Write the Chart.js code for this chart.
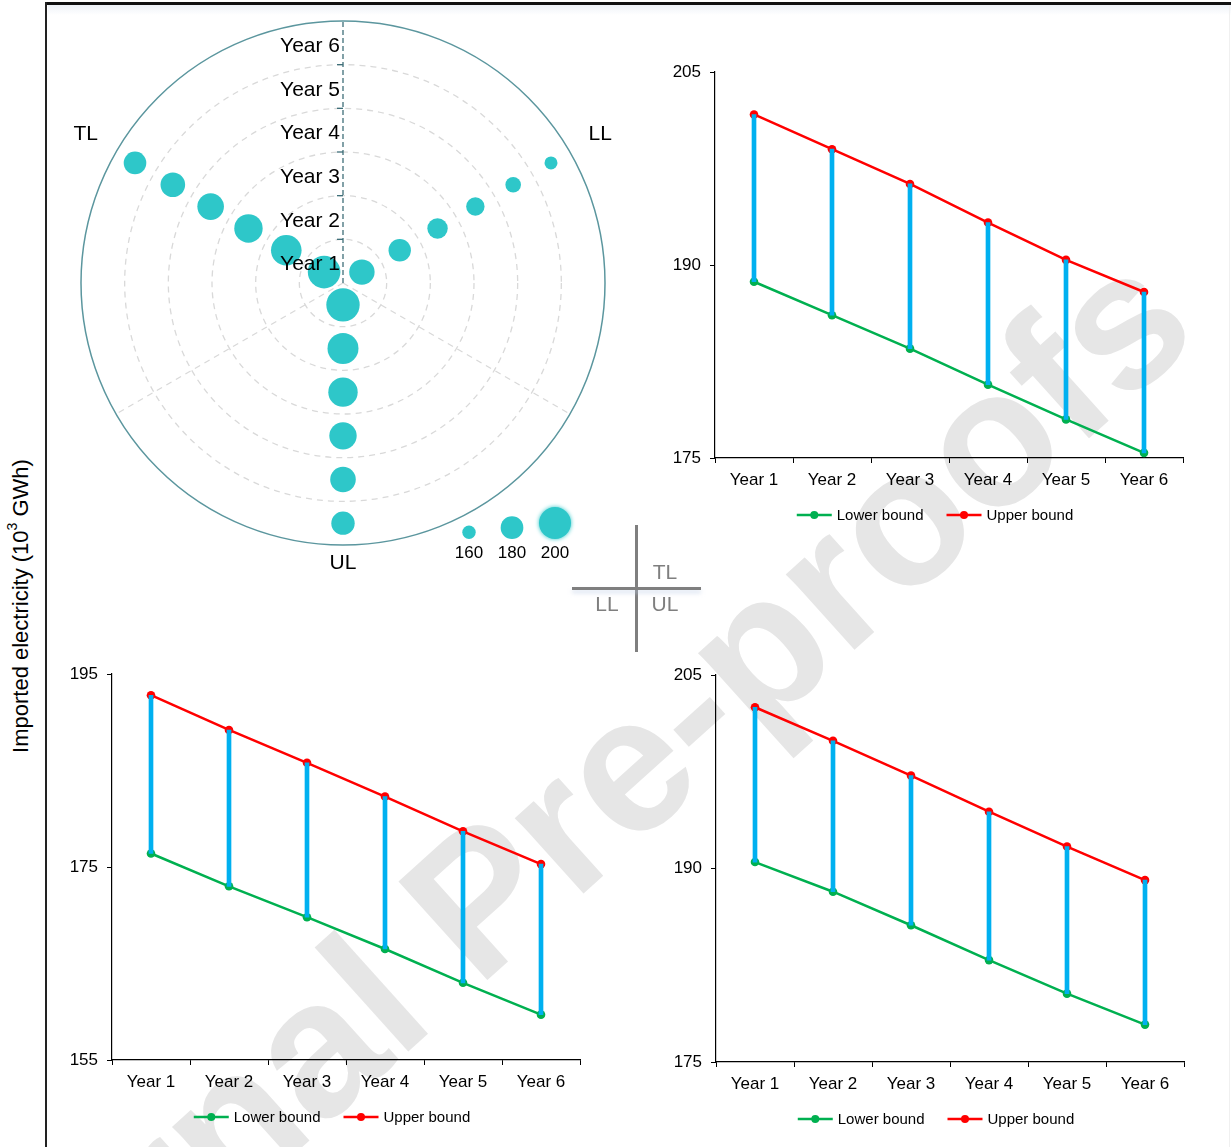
<!DOCTYPE html>
<html>
<head>
<meta charset="utf-8">
<title>Imported electricity bounds</title>
<script src="https://cdn.jsdelivr.net/npm/chart.js@4.4.1/dist/chart.umd.min.js"></script>
<style>
  html, body { margin: 0; padding: 0; background: #fff; }
  body { width: 1231px; height: 1147px; position: relative; overflow: hidden;
         font-family: "Liberation Sans", Arial, sans-serif; }
  canvas { position: absolute; }
  #watermark { position: absolute; left: 517px; top: 864px; white-space: nowrap;
               font-size: 193px; font-weight: bold; line-height: 1; color: #e6e6e6;
               transform: translate(-50%, -50%) rotate(-42deg); z-index: 0; }
  #frameTop { position: absolute; left: 46px; top: 2px; width: 1185px; height: 3px; background: #111; z-index: 5; }
  #frameShade { position: absolute; left: 48px; top: 5px; width: 1183px; height: 10px;
                background: linear-gradient(#eef2f8, rgba(255,255,255,0)); z-index: 1; }
  #frameLeft { position: absolute; left: 45px; top: 2px; width: 2px; height: 1145px; background: #222; z-index: 5; }
  #frameRight { position: absolute; left: 1229px; top: 5px; width: 1px; height: 1142px; background: #f0f0f0; z-index: 1; }
  #ytitle { position: absolute; left: 20px; top: 606px; white-space: nowrap; font-size: 22px; color: #000;
            transform: translate(-50%, -50%) rotate(-90deg); z-index: 3; }
  #ytitle sup { font-size: 14px; position: relative; top: -2px; }
  .keyLine { position: absolute; background: #7f7f7f; z-index: 3; }
  .keyText { position: absolute; font-size: 21px; color: #7f7f7f; transform: translate(-50%, -50%); z-index: 3; }
</style>
</head>
<body>
<div id="watermark">Journal Pre-proofs</div>
<div id="frameShade"></div>
<div id="frameTop"></div>
<div id="frameLeft"></div>
<div id="frameRight"></div>
<div id="ytitle">Imported electricity (10<sup>3</sup> GWh)</div>

<!-- quadrant key for the three line panels -->
<div class="keyLine" style="left:635px; top:525px; width:3px; height:127px;"></div>
<div class="keyLine" style="left:572px; top:587px; width:129px; height:3px; box-shadow:0 3px 4px rgba(190,205,230,0.6);"></div>
<div class="keyText" style="left:665px; top:572px;">TL</div>
<div class="keyText" style="left:607px; top:604px;">LL</div>
<div class="keyText" style="left:665px; top:604px;">UL</div>

<canvas id="polar" width="594" height="570" style="left:46px; top:5px; z-index:2;"></canvas>
<canvas id="chartTL" width="575" height="500" style="left:645px; top:50px; z-index:2;"></canvas>
<canvas id="chartLL" width="575" height="495" style="left:42px; top:652px; z-index:2;"></canvas>
<canvas id="chartUL" width="575" height="494" style="left:646px; top:653px; z-index:2;"></canvas>

<script>
// ---- data (10^3 GWh) ----
const years = ['Year 1', 'Year 2', 'Year 3', 'Year 4', 'Year 5', 'Year 6'];

const tlLower = [188.7, 186.1, 183.5, 180.7, 178.0, 175.4];
const tlUpper = [201.7, 199.0, 196.3, 193.3, 190.4, 187.9];

const llLower = [176.4, 173.0, 169.8, 166.5, 163.0, 159.7];
const llUpper = [192.8, 189.2, 185.8, 182.3, 178.7, 175.3];

const ulLower = [190.5, 188.2, 185.6, 182.9, 180.3, 177.9];
const ulUpper = [202.5, 199.9, 197.2, 194.4, 191.7, 189.1];

// bubble sizes on the three arms of the radial panel, Year 1 .. Year 6
const tlBubble = [201.3, 197.0, 192.3, 188.4, 184.1, 179.8];
const llBubble = [185.8, 179.4, 175.1, 170.8, 164.7, 159.1];
const ulBubble = [203.0, 197.8, 194.4, 190.1, 186.2, 181.5];
const bubbleKey = [160, 180, 200];

// spokes of the radial panel (clockwise from the top)
const spokes = ['', 'LL', '', 'UL', '', 'TL'];
// ring of each year on the radial axis
const yearRing = [0.5, 1.5, 2.5, 3.5, 4.5, 5.5];

// ---- shared style ----
const FONT = '"Liberation Sans", Arial, sans-serif';
Chart.defaults.font.family = FONT;
Chart.defaults.color = '#000';

const TEAL = '#2ec7c9';
const bubbleRadius = v => 6.7 + (v - 160) * 0.2325;

// ---- radial bubble panel ----
const armOf = { 1: llBubble, 3: ulBubble, 5: tlBubble };

const polarDecor = {
  id: 'polarDecor',
  beforeDatasetsDraw(chart) {
    const s = chart.scales.r;
    const ctx = chart.ctx;
    const cx = s.xCenter, cy = s.yCenter, R = s.drawingArea;
    ctx.save();
    // outer rim
    ctx.strokeStyle = '#5b969e';
    ctx.lineWidth = 1.5;
    ctx.beginPath();
    ctx.arc(cx, cy, R, 0, Math.PI * 2);
    ctx.stroke();
    // radial axis with year rings marked
    ctx.strokeStyle = '#3f6f79';
    ctx.lineWidth = 1.3;
    ctx.setLineDash([5, 3]);
    ctx.beginPath();
    ctx.moveTo(cx, cy);
    ctx.lineTo(cx, cy - R);
    ctx.stroke();
    ctx.setLineDash([]);
    for (let v = 1; v < s.max; v++) {
      const d = s.getDistanceFromCenterForValue(v);
      ctx.beginPath();
      ctx.moveTo(cx - 6, cy - d);
      ctx.lineTo(cx, cy - d);
      ctx.stroke();
    }
    ctx.restore();
  },
  afterDatasetsDraw(chart) {
    const s = chart.scales.r;
    const ctx = chart.ctx;
    const cx = s.xCenter, cy = s.yCenter, R = s.drawingArea;
    ctx.save();
    // year names along the radial axis
    ctx.fillStyle = '#000';
    ctx.font = '21px ' + FONT;
    ctx.textAlign = 'right';
    ctx.textBaseline = 'middle';
    years.forEach((y, i) => {
      const d = s.getDistanceFromCenterForValue(yearRing[i]);
      ctx.fillText(y, cx - 3, cy - d + 3.5);
    });
    // spoke names
    ctx.font = '21px ' + FONT;
    ctx.textAlign = 'center';
    spokes.forEach((name, i) => {
      if (!name) return;
      const extra = (i === 3) ? 18 : 35;
      const p = s.getPointPosition(i, R + extra);
      ctx.fillText(name, p.x, p.y);
    });
    // bubble size key
    ctx.font = '17px ' + FONT;
    bubbleKey.forEach((v, i) => {
      const r = bubbleRadius(v);
      const x = cx + 126 + 43 * i;
      const bottom = cy + 256;
      ctx.save();
      ctx.fillStyle = TEAL;
      if (i === bubbleKey.length - 1) { ctx.shadowColor = TEAL; ctx.shadowBlur = 4; }
      ctx.beginPath();
      ctx.arc(x, bottom - r, r, 0, Math.PI * 2);
      ctx.fill();
      ctx.restore();
      ctx.fillStyle = '#000';
      ctx.fillText(String(v), x, cy + 270);
    });
    ctx.restore();
  }
};

new Chart(document.getElementById('polar'), {
  type: 'radar',
  data: {
    labels: spokes,
    datasets: years.map((y, k) => ({
      label: y,
      data: spokes.map((name, i) => name ? yearRing[k] : null),
      showLine: false,
      pointBackgroundColor: TEAL,
      pointBorderWidth: 0,
      pointRadius: ctx => armOf[ctx.dataIndex] ? bubbleRadius(armOf[ctx.dataIndex][k]) : 0
    }))
  },
  options: {
    responsive: false,
    animation: false,
    events: [],
    layout: { padding: { left: 35, top: 16, right: 35, bottom: 30 } },
    plugins: { legend: { display: false }, tooltip: { enabled: false } },
    scales: {
      r: {
        min: 0,
        max: 6,
        ticks: { display: false, stepSize: 1 },
        pointLabels: { display: false },
        grid: {
          circular: true,
          color: ctx => ctx.tick && ctx.tick.value >= 6 ? 'rgba(0,0,0,0)' : '#d9d9d9',
          lineWidth: 1.3
        },
        border: { dash: [6, 5] },
        angleLines: {
          color: ctx => (ctx.index === 2 || ctx.index === 4) ? '#d9d9d9' : 'rgba(0,0,0,0)',
          lineWidth: 1.3,
          borderDash: [6, 5]
        }
      }
    }
  },
  plugins: [polarDecor]
});

// ---- bound panels ----
const boundLegend = {
  id: 'boundLegend',
  afterDraw(chart) {
    const { ctx, chartArea } = chart;
    const items = chart.data.datasets.filter(d => d.type === 'line');
    ctx.save();
    ctx.font = '15px ' + FONT;
    const icon = 35, gapText = 5, gapItem = 23;
    const widths = items.map(d => icon + gapText + ctx.measureText(d.label).width);
    const total = widths.reduce((a, b) => a + b, 0) + gapItem * (items.length - 1);
    let x = (chartArea.left + chartArea.right) / 2 - 14 - total / 2;
    const y = chartArea.bottom + 57;
    items.forEach((d, i) => {
      ctx.strokeStyle = d.borderColor;
      ctx.lineWidth = 2.5;
      ctx.beginPath();
      ctx.moveTo(x, y);
      ctx.lineTo(x + icon, y);
      ctx.stroke();
      ctx.fillStyle = d.borderColor;
      ctx.beginPath();
      ctx.arc(x + icon / 2, y, 4, 0, Math.PI * 2);
      ctx.fill();
      ctx.fillStyle = '#000';
      ctx.textAlign = 'left';
      ctx.textBaseline = 'middle';
      ctx.fillText(d.label, x + icon + gapText, y + 1);
      x += widths[i] + gapItem;
    });
    ctx.restore();
  }
};

function boundsChart(id, lower, upper, yMin, yMax, yStep, padBottom) {
  return new Chart(document.getElementById(id), {
    type: 'bar',
    data: {
      labels: years,
      datasets: [
        {
          type: 'bar', label: 'Range',
          data: lower.map((v, i) => [v, upper[i]]),
          backgroundColor: '#00b0f0', borderWidth: 0, barThickness: 4, order: 0
        },
        {
          type: 'line', label: 'Lower bound', data: lower,
          borderColor: '#00b050', backgroundColor: '#00b050', borderWidth: 2.5,
          pointRadius: 4.3, pointBorderWidth: 0, pointBackgroundColor: '#00b050', tension: 0, order: 1
        },
        {
          type: 'line', label: 'Upper bound', data: upper,
          borderColor: '#ff0000', backgroundColor: '#ff0000', borderWidth: 2.5,
          pointRadius: 4.3, pointBorderWidth: 0, pointBackgroundColor: '#ff0000', tension: 0, order: 2
        }
      ]
    },
    options: {
      responsive: false,
      animation: false,
      events: [],
      layout: { padding: { left: 5, right: 37, top: 22, bottom: padBottom } },
      plugins: { legend: { display: false }, tooltip: { enabled: false } },
      scales: {
        x: {
          offset: true,
          grid: { offset: true, drawOnChartArea: false, drawTicks: true, tickLength: 5, color: '#000', lineWidth: 1 },
          border: { color: '#000', width: 1.2 },
          ticks: { padding: 7, color: '#000', font: { size: 17 }, maxRotation: 0 },
          afterFit: s => { s.height = 40; }
        },
        y: {
          min: yMin, max: yMax,
          ticks: { stepSize: yStep, padding: 9, color: '#000', font: { size: 17 } },
          grid: { drawOnChartArea: false, tickLength: 5, color: '#000', lineWidth: 1 },
          border: { color: '#000', width: 1.2 },
          afterFit: s => { s.width = 65; }
        }
      }
    },
    plugins: [boundLegend]
  });
}

boundsChart('chartTL', tlLower, tlUpper, 175, 205, 15, 52);
boundsChart('chartLL', llLower, llUpper, 155, 195, 20, 47);
boundsChart('chartUL', ulLower, ulUpper, 175, 205, 15, 45);
</script>
</body>
</html>
